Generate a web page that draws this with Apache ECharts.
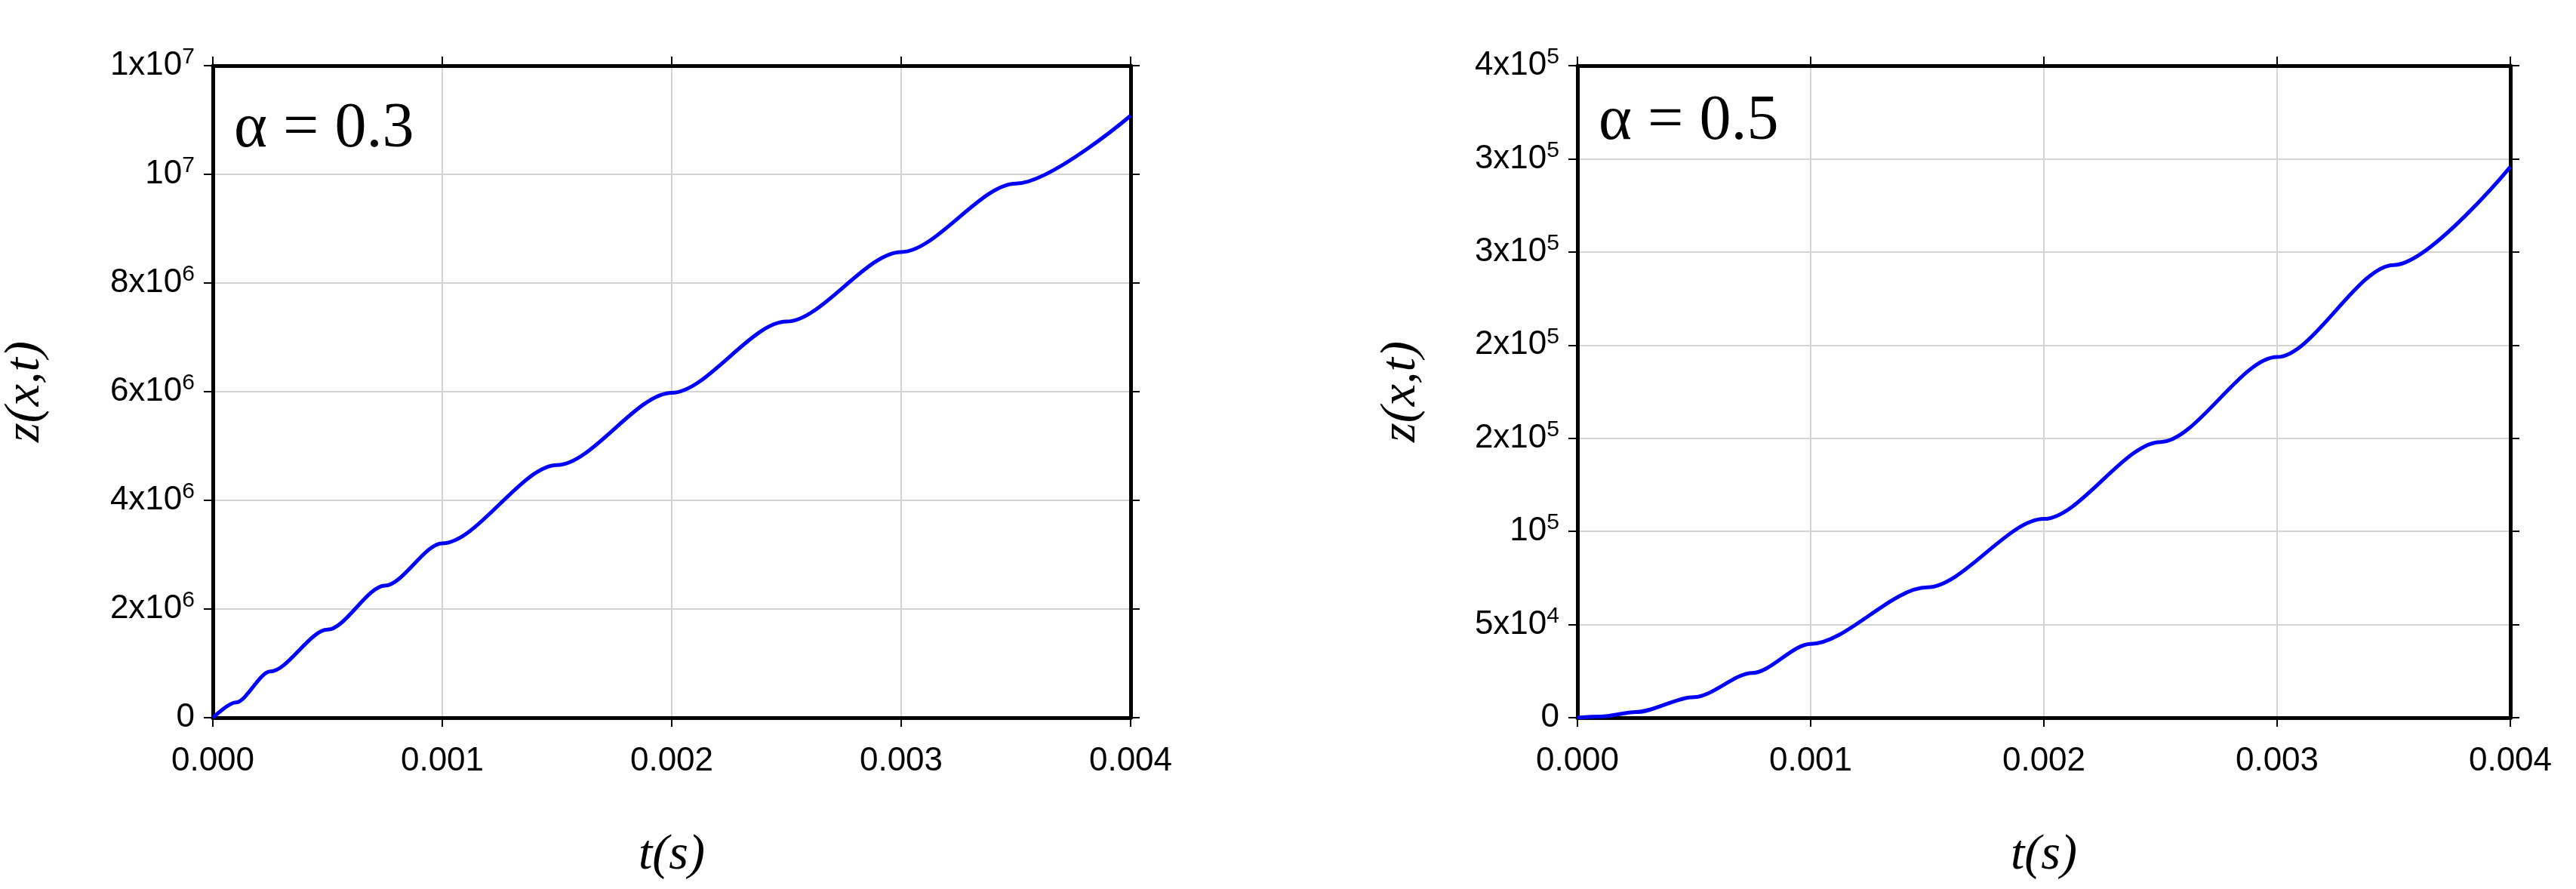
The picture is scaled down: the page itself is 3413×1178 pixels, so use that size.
<!DOCTYPE html><html><head><meta charset="utf-8">
<script src="https://cdn.jsdelivr.net/npm/echarts@6/dist/echarts.min.js"></script>
<style>html,body{margin:0;background:#fff}#c{width:3413px;height:1178px}</style></head><body><div id="c"></div>
<script>
const t = [0, 0.0001, 0.00025, 0.0005, 0.00075, 0.001, 0.0015, 0.002, 0.0025, 0.003, 0.0035, 0.004];
const z03 = [0, 280000, 850000, 1620000, 2430000, 3210000, 4650000, 5980000, 7290000, 8570000, 9830000, 11080000];
const z05 = [0, 600, 3000, 11000, 24000, 39600, 70000, 106700, 148000, 193600, 243000, 295700];
const xTicks = ['0.000','0.001','0.002','0.003','0.004'];
const yLabels03 = [['0',''],['2x10','6'],['4x10','6'],['6x10','6'],['8x10','6'],['10','7'],['1x10','7']];
const yLabels05 = [['0',''],['5x10','4'],['10','5'],['2x10','5'],['2x10','5'],['3x10','5'],['3x10','5'],['4x10','5']];

const chart = echarts.init(document.getElementById('c'));
const grids = [{left:263,top:87,width:1235,height:864},{left:2090,top:87,width:1236,height:864}];
const rich = {b:{fontFamily:'Liberation Sans',fontSize:44,color:'#000'},s:{fontFamily:'Liberation Sans',fontSize:30,color:'#000',padding:[0,0,22,0]}};
const gl = {show:true,lineStyle:{color:'#d4d4d4',width:2}};
const line = {show:true,onZero:false,lineStyle:{color:'#000',width:5}};
const tick = {show:true,length:12,lineStyle:{color:'#000',width:2}};
const ttl = {fontFamily:'Liberation Serif',fontStyle:'italic',fontSize:66,color:'#000'};
function xAx(g){return [
 {type:'value',gridIndex:g,min:0,max:0.004,interval:0.001,axisLine:line,axisTick:tick,splitLine:gl,
  axisLabel:{margin:36,fontFamily:'Liberation Sans',fontSize:44,color:'#000',formatter:(v)=>xTicks[Math.round(v/0.001)]},
  name:'t(s)',nameLocation:'middle',nameGap:150,nameTextStyle:ttl},
 {type:'value',gridIndex:g,position:'top',min:0,max:0.004,interval:0.001,axisLine:line,axisTick:tick,axisLabel:{show:false},splitLine:{show:false}}];}
function yAx(g,max,iv,labs){return [
 {type:'value',gridIndex:g,min:0,max:max,interval:iv,axisLine:line,axisTick:tick,splitLine:gl,
  axisLabel:{margin:24,rich:rich,formatter:(v)=>{const l=labs[Math.round(v/iv)];return '{b|'+l[0]+'}'+(l[1]?'{s|'+l[1]+'}':'');}},
  name:'z(x,t)',nameLocation:'middle',nameGap:g===0?215:200,nameTextStyle:ttl},
 {type:'value',gridIndex:g,position:'right',min:0,max:max,interval:iv,axisLine:line,axisTick:tick,axisLabel:{show:false},splitLine:{show:false}}];}
chart.setOption({
 animation:false,
 grid:grids,
 xAxis:[...xAx(0),...xAx(1)],
 yAxis:[...yAx(0,12000000,2000000,yLabels03),...yAx(1,350000,50000,yLabels05)],
 graphic:[
  {type:'text',left:310,top:130,style:{text:'α = 0.3',font:'84px "Liberation Serif"',fill:'#000'}},
  {type:'text',left:2118,top:120,style:{text:'α = 0.5',font:'84px "Liberation Serif"',fill:'#000'}}],
 series:[
  {type:'line',xAxisIndex:0,yAxisIndex:0,data:t.map((x,i)=>[x,z03[i]]),smooth:0.3,smoothMonotone:'x',showSymbol:false,lineStyle:{color:'#0000ff',width:5},z:5},
  {type:'line',xAxisIndex:2,yAxisIndex:2,data:t.map((x,i)=>[x,z05[i]]),smooth:0.3,smoothMonotone:'x',showSymbol:false,lineStyle:{color:'#0000ff',width:5},z:5}]
});
</script></body></html>
